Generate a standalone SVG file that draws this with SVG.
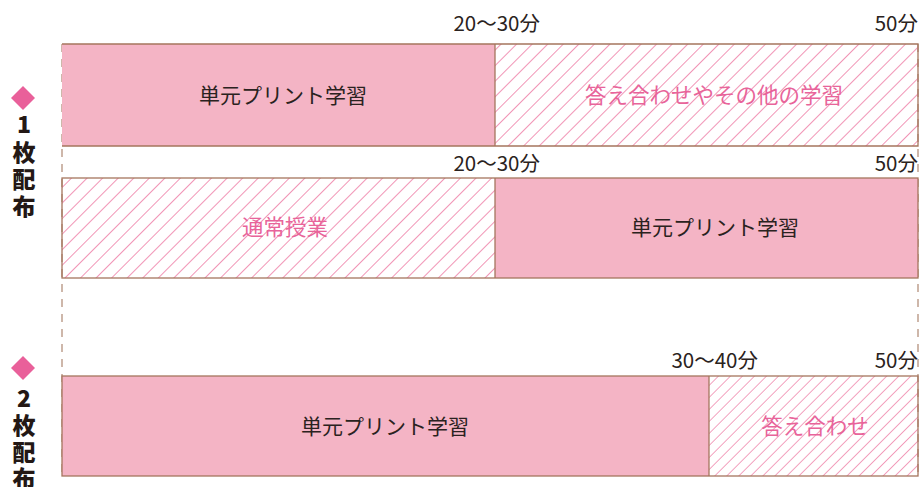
<svg xmlns="http://www.w3.org/2000/svg" width="923" height="487" viewBox="0 0 923 487">
<style>
.fill{fill:#f4b4c5}
.box{stroke:#a5765e;stroke-width:1.3;fill:none}
.t{font-family:"Noto Sans CJK JP","Noto Sans",sans-serif;font-size:21px;fill:#2a2220;text-anchor:middle}
.tp{font-family:"Noto Sans CJK JP","Noto Sans",sans-serif;font-size:21.5px;fill:#e8649a;text-anchor:middle}
.tm{font-family:"Noto Sans CJK JP","Noto Sans",sans-serif;font-size:20.5px;fill:#2a2220;text-anchor:end}
.side{font-family:"Noto Sans CJK JP","Noto Sans",sans-serif;font-size:23px;font-weight:900;fill:#231815;text-anchor:middle}
.dash{stroke:#bfa08e;stroke-width:1.5;stroke-dasharray:8 7;fill:none}
.dia{fill:#e9609a}
</style>
<defs>
<pattern id="h1" patternUnits="userSpaceOnUse" width="11" height="11" patternTransform="rotate(45)">
<line x1="0" y1="0" x2="0" y2="11" stroke="#ee7aa3" stroke-width="1.6"/>
</pattern>
<pattern id="h2" patternUnits="userSpaceOnUse" width="8.5" height="8.5" patternTransform="rotate(45)">
<line x1="0" y1="0" x2="0" y2="8.5" stroke="#ee7aa3" stroke-width="1.4"/>
</pattern>
</defs>
<g id="guides">
<line class="dash" x1="62" y1="44" x2="62" y2="476"/>
<line class="dash" x1="918" y1="44" x2="918" y2="476"/>
</g>
<g id="side1">
<polygon class="dia" points="23,86 35,98 23,110 11,98"/>
<text class="side" x="24" y="133">1</text>
<text class="side" x="24" y="161">枚</text>
<text class="side" x="24" y="188">配</text>
<text class="side" x="24" y="215">布</text>
</g>
<g id="side2">
<polygon class="dia" points="23,356 35,368 23,380 11,368"/>
<text class="side" x="24" y="407">2</text>
<text class="side" x="24" y="434">枚</text>
<text class="side" x="24" y="461">配</text>
<text class="side" x="24" y="487">布</text>
</g>
<g id="row1">
<rect class="fill" x="62" y="44" width="433" height="102"/>
<rect x="495" y="44" width="423" height="102" fill="url(#h1)"/>
<path class="box" d="M62,44 H918 V146 H62 M495,44 V146"/>
<text class="t" x="283" y="103">単元プリント学習</text>
<text class="tp" x="714" y="103">答え合わせやその他の学習</text>
<text class="tm" x="540" y="31">20〜30分</text>
<text class="tm" x="918" y="31">50分</text>
</g>
<g id="row2">
<rect x="62" y="178" width="433" height="100" fill="url(#h1)"/>
<rect class="fill" x="495" y="178" width="423" height="100"/>
<rect class="box" x="62" y="178" width="856" height="100"/>
<line class="box" x1="495" y1="178" x2="495" y2="278"/>
<text class="tp" x="285" y="235">通常授業</text>
<text class="t" x="715" y="235">単元プリント学習</text>
<text class="tm" x="540" y="171">20〜30分</text>
<text class="tm" x="918" y="171">50分</text>
</g>
<g id="row3">
<rect class="fill" x="62" y="376" width="647" height="100"/>
<rect x="709" y="376" width="209" height="100" fill="url(#h2)"/>
<rect class="box" x="62" y="376" width="856" height="100"/>
<line class="box" x1="709" y1="376" x2="709" y2="476"/>
<text class="t" x="385" y="434">単元プリント学習</text>
<text class="tp" x="815" y="434">答え合わせ</text>
<text class="tm" x="758" y="368">30〜40分</text>
<text class="tm" x="918" y="368">50分</text>
</g>
</svg>
